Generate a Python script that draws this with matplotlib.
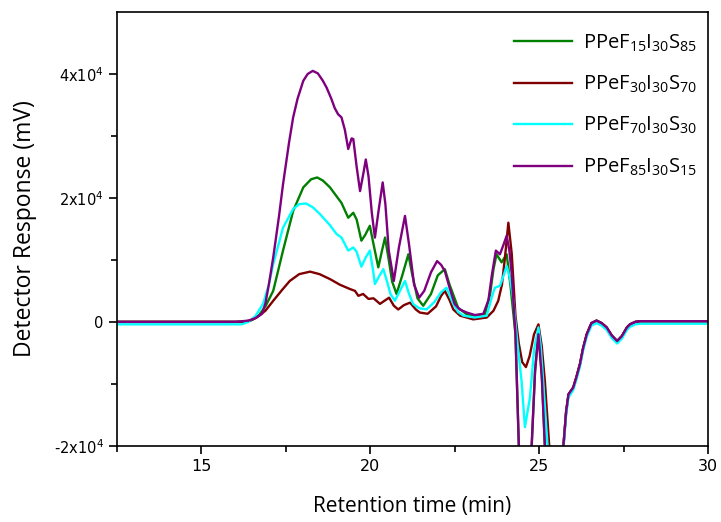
import numpy as np
from matplotlib import pyplot as plt

# shared tail after the big negative dip (purple / green / red overlap there)
tail_t = [25.8, 25.87, 26.01, 26.1, 26.21, 26.3, 26.41, 26.55, 26.7, 26.85, 27.0,
          27.15, 27.31, 27.45, 27.6, 27.69, 27.85, 28.0, 30.0]
tail_y = [-14500, -11700, -10600, -9000, -6800, -4300, -2000, -200, 200, -200, -900,
          -2200, -3100, -2300, -900, -400, 0, 100, 100]

t_f15 = [12.5, 16.3, 16.5, 16.7, 16.9, 17.13, 17.42, 17.72, 18.02, 18.25, 18.43, 18.6,
         18.81, 19.0, 19.15, 19.25, 19.35, 19.5, 19.6, 19.74, 19.85, 19.99, 20.1, 20.24,
         20.35, 20.44, 20.55, 20.65, 20.78, 20.95, 21.13, 21.25, 21.4, 21.57, 21.8, 22.0,
         22.21, 22.35, 22.6, 22.86, 23.1, 23.4, 23.55, 23.65, 23.74, 23.89, 24.04, 24.15,
         24.3, 24.4, 24.5, 24.65, 24.78, 24.88, 24.98, 25.08, 25.17, 25.3, 25.5, 25.72]
y_f15 = [0, 0, 300, 1000, 2500, 5000, 11500, 17900, 21700, 23000, 23300, 22800,
         21700, 20300, 19200, 18000, 16800, 17600, 16500, 13100, 14000, 15500, 12500, 8800,
         11500, 13600, 10000, 6500, 4500, 7500, 10900, 7500, 3800, 2600, 4500, 7500,
         8500, 6000, 2300, 1200, 1000, 1300, 4500, 8500, 10900, 9600, 10900, 6000,
         -2000, -20000, -28000, -28000, -20000, -8000, -1500, -8500, -20000, -31000, -31000, -20000]

t_f30 = [12.5, 16.2, 16.45, 16.64, 16.9, 17.13, 17.4, 17.62, 17.9, 18.22, 18.5, 18.81,
         19.1, 19.4, 19.55, 19.65, 19.79, 19.95, 20.1, 20.29, 20.45, 20.56, 20.7, 20.83,
         21.0, 21.18, 21.35, 21.47, 21.7, 21.95, 22.1, 22.21, 22.35, 22.46, 22.66, 23.05,
         23.45, 23.65, 23.79, 23.9, 23.99, 24.09, 24.19, 24.3, 24.4, 24.5, 24.61, 24.72,
         24.85, 24.98, 25.08, 25.17, 25.3, 25.45, 25.6, 25.72]
y_f30 = [0, 0, 200, 700, 1800, 3400, 5200, 6600, 7700, 8100, 7700, 6900,
         6000, 5300, 5000, 4200, 4500, 3700, 3800, 2900, 3500, 3900, 2600, 2000,
         2700, 3100, 2000, 1500, 1300, 2500, 4200, 5000, 3500, 2000, 1000, 400,
         700, 1800, 3400, 6000, 10400, 16000, 11000, 1000, -3500, -6500, -7300, -5500,
         -2000, -400, -4000, -9500, -20000, -30000, -28000, -20000]

t_f70 = [12.5, 16.2, 16.4, 16.6, 16.83, 17.0, 17.13, 17.42, 17.72, 17.9, 18.1, 18.3,
         18.51, 18.81, 19.0, 19.15, 19.35, 19.5, 19.6, 19.74, 19.88, 19.99, 20.08, 20.14,
         20.28, 20.39, 20.5, 20.6, 20.73, 20.88, 21.03, 21.15, 21.27, 21.45, 21.67, 21.9,
         22.1, 22.26, 22.45, 22.6, 22.76, 23.1, 23.45, 23.6, 23.69, 23.84, 23.95, 24.04,
         24.14, 24.24, 24.35, 24.48, 24.58, 24.73, 24.85, 24.98, 25.05, 25.12, 25.25, 25.4,
         25.6, 25.72, 25.8, 25.87, 26.01, 26.1, 26.21, 26.3, 26.41, 26.55, 26.7, 26.85,
         27.0, 27.15, 27.31, 27.45, 27.6, 27.69, 27.85, 28.0, 30.0]
y_f70 = [-400, -400, 0, 900, 2900, 6000, 9300, 15200, 18200, 19000, 19100, 18500,
         17400, 15600, 14200, 13600, 11500, 12000, 11300, 8900, 10500, 11500, 8500, 6100,
         7500, 8500, 6500, 4500, 3400, 5000, 6600, 4500, 2900, 2200, 2000, 3200,
         4800, 5500, 3000, 1600, 1000, 700, 1000, 4000, 5500, 5800, 7500, 9000,
         7000, 3400, -3000, -9500, -17000, -12200, -4500, -900, -4000, -9500, -20000, -30000,
         -30000, -20500, -15000, -12200, -11000, -9400, -7200, -4700, -2400, -600, -200, -600,
         -1300, -2600, -3500, -2700, -1300, -800, -400, -300, -300]

t_f85 = [12.5, 16.0, 16.4, 16.6, 16.8, 16.9, 17.0, 17.13, 17.3, 17.42, 17.6, 17.72,
         17.85, 18.02, 18.15, 18.3, 18.45, 18.6, 18.71, 18.85, 18.95, 19.05, 19.15, 19.25,
         19.35, 19.45, 19.5, 19.6, 19.7, 19.8, 19.87, 19.95, 20.05, 20.14, 20.25, 20.37,
         20.45, 20.55, 20.7, 20.85, 21.03, 21.15, 21.3, 21.45, 21.6, 21.8, 21.98, 22.1,
         22.21, 22.35, 22.5, 22.65, 22.86, 23.1, 23.35, 23.5, 23.6, 23.72, 23.84, 23.95,
         24.04, 24.12, 24.19, 24.3, 24.4, 24.5, 24.65, 24.78, 24.88, 24.98, 25.08, 25.17,
         25.3, 25.5, 25.72]
y_f85 = [0, 0, 200, 600, 1300, 3000, 6000, 10400, 17000, 22200, 29000, 33000,
         36000, 38900, 40000, 40500, 40100, 38900, 37800, 36000, 34500, 33500, 33000, 31000,
         27900, 29600, 29500, 25000, 21100, 24000, 26200, 23500, 17500, 13600, 18000, 22500,
         19000, 11500, 6600, 12000, 17100, 12500, 6000, 3900, 5000, 8000, 9800, 9200,
         8200, 5500, 2900, 2000, 1500, 1100, 1300, 3500, 7500, 11500, 10900, 12500,
         13900, 11500, 7700, -2000, -20000, -30000, -30000, -20000, -8000, -2000, -9000, -20000,
         -32000, -32000, -20000]

labels = [r'PPeF$_{15}$I$_{30}$S$_{85}$', r'PPeF$_{30}$I$_{30}$S$_{70}$',
          r'PPeF$_{70}$I$_{30}$S$_{30}$', r'PPeF$_{85}$I$_{30}$S$_{15}$']
colors = ['#007f00', '#7f0000', '#00ffff', '#7f007f']


def main():
    plt.rcParams['mathtext.default'] = 'regular'
    fig = plt.figure(figsize=(7.21, 5.22), dpi=100)
    axes = fig.add_axes([0.162, 0.146, 0.820, 0.831])

    series = [(t_f15 + tail_t, y_f15 + tail_y),
              (t_f30 + tail_t, y_f30 + tail_y),
              (t_f70, y_f70),
              (t_f85 + tail_t, y_f85 + tail_y)]
    for (t, y), lab, c in zip(series, labels, colors):
        axes.plot(t, y, color=c, linewidth=1.7, label=lab)

    axes.set_xlim(12.5, 30)
    axes.set_ylim(-20000, 50000)
    axes.set_xticks([15, 20, 25, 30])
    axes.set_xticks([12.5, 17.5, 22.5, 27.5], minor=True)
    axes.set_yticks([-20000, 0, 20000, 40000])
    axes.set_yticklabels([r'-2x10$^4$', '0', r'2x10$^4$', r'4x10$^4$'])
    axes.set_yticks([-10000, 10000, 30000], minor=True)
    axes.tick_params(which='both', direction='out', top=False, right=False,
                     labelsize=10.5, width=1.2)
    axes.tick_params(axis='x', labelsize=11.5)
    axes.tick_params(which='major', length=6)
    axes.tick_params(which='minor', length=4)
    for s in axes.spines.values():
        s.set_linewidth(1.2)

    axes.set_xlabel('Retention time (min)', fontsize=15, family='Open Sans', labelpad=16)
    axes.set_ylabel('Detector Response (mV)', fontsize=16.5, family='Open Sans', labelpad=12)

    axes.legend(loc='upper right', bbox_to_anchor=(1.012, 0.995), frameon=False,
                prop={'family': 'Open Sans', 'size': 14.5}, handlelength=2.9,
                labelspacing=1.0, handletextpad=0.55)

    fig.savefig('out.png', dpi=100)


if __name__ == '__main__':
    main()
